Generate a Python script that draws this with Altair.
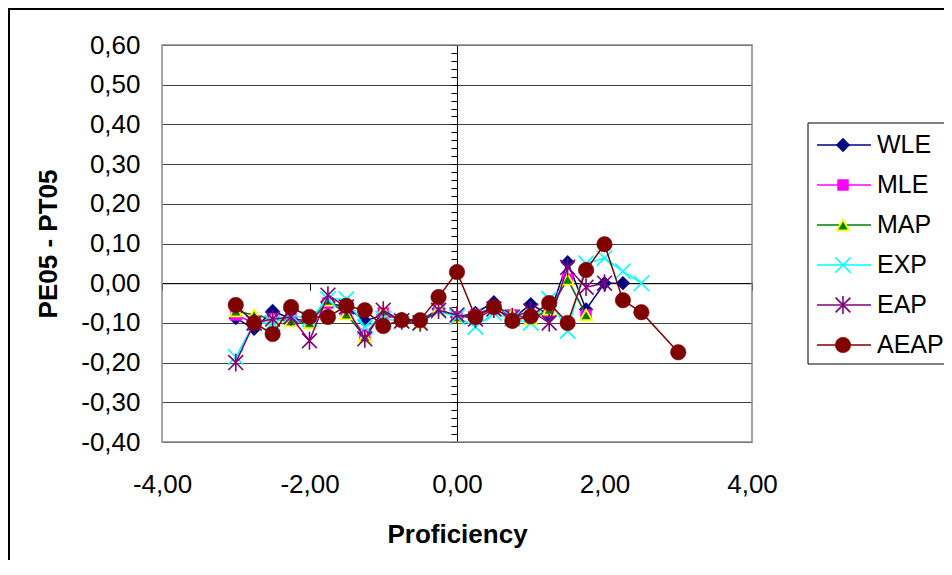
import altair as alt
import pandas as pd

# ---------------- data ----------------
x_steps = [-3.0, -2.75, -2.5, -2.25, -2.0, -1.75, -1.5, -1.25, -1.0, -0.75, -0.5, -0.25,
           0.0, 0.25, 0.5, 0.75, 1.0, 1.25, 1.5, 1.75, 2.0, 2.25, 2.5]
aeap_x = x_steps + [3.0]

wle = [-0.088, -0.115, -0.070, -0.090, -0.095, -0.050, -0.060, -0.095, -0.080, -0.090, -0.095, -0.065,
       -0.085, -0.075, -0.048, -0.090, -0.053, -0.080, 0.053, -0.066, 0.000, 0.000]
mle = [-0.080, -0.100, -0.090, -0.090, -0.100, -0.050, -0.070, -0.130, -0.075, -0.095, -0.100, -0.065,
       -0.085, -0.080, -0.060, -0.080, -0.090, -0.070, 0.010, -0.080]
map_ = [-0.070, -0.080, -0.090, -0.095, -0.100, -0.043, -0.078, -0.135, -0.070, -0.095, -0.100, -0.065,
        -0.085, -0.080, -0.060, -0.077, -0.090, -0.066, 0.010, -0.080]
exp_ = [-0.186, -0.100, -0.100, -0.080, -0.090, -0.040, -0.040, -0.110, -0.090, -0.095, -0.100, -0.070,
        -0.085, -0.110, -0.075, -0.090, -0.100, -0.040, -0.120, 0.050, 0.063, 0.030, 0.000]
eap = [-0.200, -0.100, -0.090, -0.085, -0.145, -0.030, -0.060, -0.140, -0.068, -0.095, -0.100, -0.068,
       -0.080, -0.090, -0.065, -0.085, -0.070, -0.100, 0.040, -0.010, 0.000]
aeap = [-0.055, -0.100, -0.128, -0.060, -0.085, -0.085, -0.057, -0.068, -0.108, -0.093, -0.093, -0.035,
        0.028, -0.085, -0.060, -0.095, -0.083, -0.050, -0.100, 0.033, 0.098, -0.043, -0.073, -0.174]

series_names = ["WLE", "MLE", "MAP", "EXP", "EAP", "AEAP"]
series_values = [wle, mle, map_, exp_, eap, aeap]
series_x = [x_steps, x_steps, x_steps, x_steps, x_steps, aeap_x]

y_ticks = [round(-0.4 + 0.1 * i, 1) for i in range(11)]
y_minor = [round(-0.4 + 0.02 * i, 2) for i in range(51)]
x_ticks = [-4, -2, 0, 2, 4]

# ---------------- styling ----------------
W, H = 590, 397
FONT = "Liberation Sans"
FS = 26
colors = {"WLE": "#000080", "MLE": "#FF00FF", "MAP": "#008000",
          "EXP": "#00FFFF", "EAP": "#800080", "AEAP": "#800000"}
X_PATH = "M-1,-1L1,1M-1,1L1,-1"
STAR_PATH = "M-1,-1L1,1M-1,1L1,-1M0,-1.2L0,1.2"
marker = {
    "WLE": dict(shape="diamond", filled=True, size=190, fill="#000080", stroke="#000080", strokeWidth=0.5),
    "MLE": dict(shape="square", filled=True, size=120, fill="#FF00FF", stroke="#FF00FF", strokeWidth=0.5),
    "MAP": dict(shape="triangle-up", filled=True, size=150, fill="#008000", stroke="#FFFF00", strokeWidth=1.8),
    "EXP": dict(shape=X_PATH, filled=False, size=240, stroke="#00FFFF", strokeWidth=1.6),
    "EAP": dict(shape=STAR_PATH, filled=False, size=220, stroke="#800080", strokeWidth=1.6),
    "AEAP": dict(shape="circle", filled=True, size=240, fill="#800000", stroke="#800000", strokeWidth=0.5),
}

label_expr = "(datum.value < -0.0001 ? '-' : '') + replace(format(abs(datum.value), '.2f'), '.', ',')"

x_scale = alt.Scale(domain=[-4, 4], nice=False, zero=False)
y_scale = alt.Scale(domain=[-0.4, 0.6], nice=False, zero=False)

rows = []
for name, xs, ys in zip(series_names, series_x, series_values):
    for xv, yv in zip(xs, ys):
        rows.append({"series": name, "x": xv, "y": yv})
df = pd.DataFrame(rows)

base = alt.Chart(df)
layers = []

# axis-bearing layer: labels + grid (invisible points)
main_axes = base.mark_point(opacity=0).encode(
    x=alt.X("x:Q", scale=x_scale, axis=alt.Axis(
        orient="bottom", values=x_ticks, labelExpr=label_expr, grid=False, ticks=False, domain=False,
        labelFlush=False, labelOverlap=False,
        labelFont=FONT, labelFontSize=FS, labelColor="black", labelPadding=29,
        title="Proficiency", titleFont=FONT, titleFontSize=FS, titleFontWeight="bold",
        titleColor="black", titleX=W / 2, titleY=92, titleBaseline="middle")),
    y=alt.Y("y:Q", scale=y_scale, axis=alt.Axis(
        orient="left", values=y_ticks, labelExpr=label_expr, grid=True, gridColor="#404040", gridWidth=1,
        ticks=False, domain=False, labelFlush=False, labelOverlap=False,
        labelFont=FONT, labelFontSize=FS, labelColor="black",
        labelPadding=22, title="PE05 - PT05", titleFont=FONT, titleFontSize=FS,
        titleFontWeight="bold", titleColor="black", titleX=-114, titleY=H / 2,
        titleAngle=270, titleBaseline="middle", titleAlign="center")),
)
layers.append(main_axes)

# crossing axes at x=0 and y=0 (tick marks only)
cross_axes = base.mark_point(opacity=0).encode(
    x=alt.X("x:Q", scale=x_scale, axis=alt.Axis(
        orient="bottom", values=x_ticks, labels=False, grid=False, ticks=True, tickSize=7,
        tickColor="black", domain=True, domainColor="black", offset=-(H * 0.4), title=None)),
    y=alt.Y("y:Q", scale=y_scale, axis=alt.Axis(
        orient="left", values=y_minor, labels=False, grid=False, ticks=True, tickSize=6,
        tickColor="black", domain=True, domainColor="black", offset=-(W / 2), title=None)),
)
layers.append(cross_axes)

for name in series_names:
    sub = base.transform_filter(alt.datum.series == name)
    line = sub.mark_line(color=colors[name], strokeWidth=1.5).encode(
        x=alt.X("x:Q", scale=x_scale, axis=None),
        y=alt.Y("y:Q", scale=y_scale, axis=None),
        order="x:Q",
    )
    pts = sub.mark_point(opacity=1, **marker[name]).encode(
        x=alt.X("x:Q", scale=x_scale, axis=None),
        y=alt.Y("y:Q", scale=y_scale, axis=None),
    )
    layers += [line, pts]

# plot-area frame (gray)
one = alt.Data(values=[{}])
frame = alt.Chart(one).mark_rect(fillOpacity=0, stroke="#888888", strokeWidth=1.5).encode(
    x=alt.value(0), x2=alt.value(W), y=alt.value(0), y2=alt.value(H))
layers.append(frame)

# legend
leg_box = alt.Chart(one).mark_rect(fill="white", stroke="black", strokeWidth=1).encode(
    x=alt.value(646), x2=alt.value(810), y=alt.value(78), y2=alt.value(319))
layers.append(leg_box)
for i, name in enumerate(series_names):
    ly = 100 + 40 * i
    layers.append(alt.Chart(one).mark_rule(color=colors[name], strokeWidth=1.5).encode(
        x=alt.value(655), x2=alt.value(709), y=alt.value(ly)))
    layers.append(alt.Chart(one).mark_point(opacity=1, **marker[name]).encode(
        x=alt.value(681), y=alt.value(ly)))
    layers.append(alt.Chart(one).mark_text(align="left", baseline="middle", font=FONT,
                                           fontSize=25, color="black").encode(
        x=alt.value(715), y=alt.value(ly), text=alt.value(name)))

# outer chart border
layers.append(alt.Chart(one).mark_rule(color="black", strokeWidth=2).encode(
    x=alt.value(-153), y=alt.value(-37), y2=alt.value(H + 140)))
layers.append(alt.Chart(one).mark_rule(color="black", strokeWidth=2).encode(
    x=alt.value(-154), x2=alt.value(W + 210), y=alt.value(-36)))

chart = alt.layer(*layers).resolve_axis(x="independent", y="independent").properties(
    width=W, height=H,
    autosize=alt.AutoSizeParams(type="none"),
    padding={"left": 154, "top": 37, "right": 192, "bottom": 118},
    background="white",
).configure_view(stroke=None)

chart.save("out.html", embed_options={"renderer": "svg", "actions": False})
